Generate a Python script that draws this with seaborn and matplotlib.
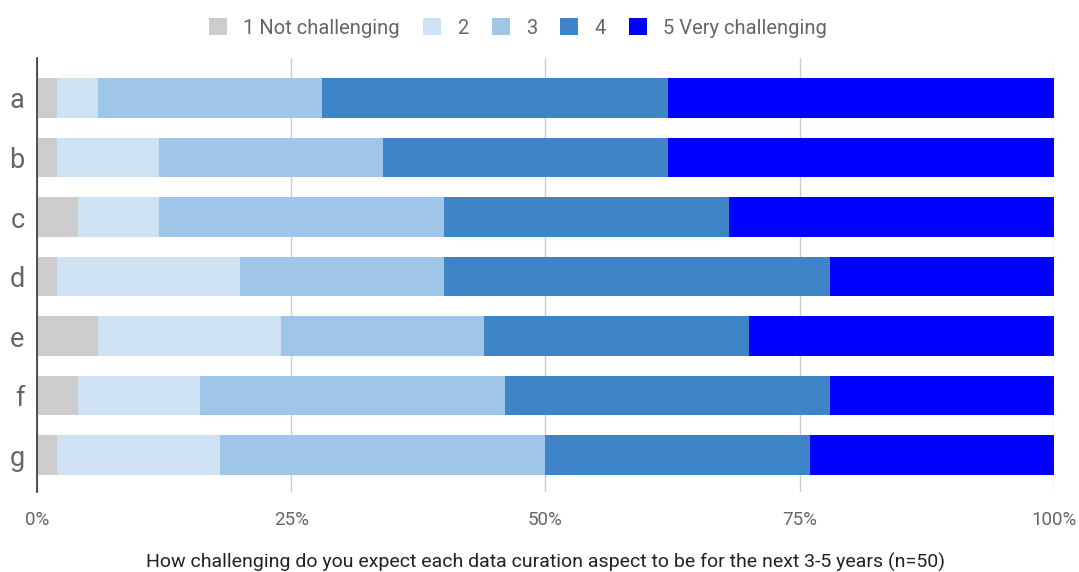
import numpy as np
import pandas as pd
import matplotlib
matplotlib.use("Agg")
import matplotlib.pyplot as plt
import seaborn as sns
from matplotlib.patches import Patch

# aspects and share of answers (%), n=50
aspects = ["a", "b", "c", "d", "e", "f", "g"]
levels = ["1 Not challenging", "2", "3", "4", "5 Very challenging"]
lvl1 = [2, 2, 4, 2, 6, 4, 2]
lvl2 = [4, 10, 8, 18, 18, 12, 16]
lvl3 = [22, 22, 28, 20, 20, 30, 32]
lvl4 = [34, 28, 28, 38, 26, 32, 26]
lvl5 = [38, 38, 32, 22, 30, 22, 24]
colors = ["#cccccc", "#cfe2f3", "#9fc5e8", "#3d85c6", "#0000ff"]

sns.set_theme(style="white")
plt.rcParams["font.family"] = ["Roboto", "DejaVu Sans"]

df = pd.DataFrame({"aspect": aspects, "l1": lvl1, "l2": lvl2, "l3": lvl3,
                   "l4": lvl4, "l5": lvl5})
cols = ["l1", "l2", "l3", "l4", "l5"]
cum = df[cols].cumsum(axis=1)

fig = plt.figure(figsize=(10.79, 5.72), dpi=100)
ax = fig.add_axes([0.0343, 0.1399, 0.9425, 0.7587])

# draw from the full stack down so each shorter layer sits on top
for c, col in zip(reversed(cols), reversed(colors)):
    sns.barplot(x=cum[c], y=df["aspect"], orient="h", color=col,
                width=0.66, saturation=1, ax=ax, linewidth=0)

ax.set_xlim(0, 100)
ax.set_ylim(6.62, -0.672)
ax.set_xticks([0, 25, 50, 75, 100])
ax.set_xticklabels(["0%", "25%", "50%", "75%", "100%"])
ax.grid(axis="x", color="#cccccc", linewidth=1)
ax.set_axisbelow(True)
for s in ["top", "right", "bottom"]:
    ax.spines[s].set_visible(False)
ax.spines["left"].set_color("#333333")
ax.spines["left"].set_linewidth(1.2)
ax.tick_params(axis="x", labelsize=13.5, labelcolor="#666666", length=0, pad=14)
ax.tick_params(axis="y", labelsize=19.5, labelcolor="#666666", length=0, pad=9)
ax.set_ylabel("")
ax.set_xlabel("How challenging do you expect each data curation aspect to be for the next 3-5 years (n=50)",
              fontsize=14, color="#222222", labelpad=17)

handles = [Patch(facecolor=c, edgecolor="none") for c in colors]
fig.legend(handles, levels, loc="center", bbox_to_anchor=(0.48, 0.951), ncol=5,
           frameon=False, fontsize=14.5, labelcolor="#666666",
           handlelength=0.9, handleheight=0.9, handletextpad=0.8, columnspacing=1.15)

fig.savefig("out.png", dpi=100)
